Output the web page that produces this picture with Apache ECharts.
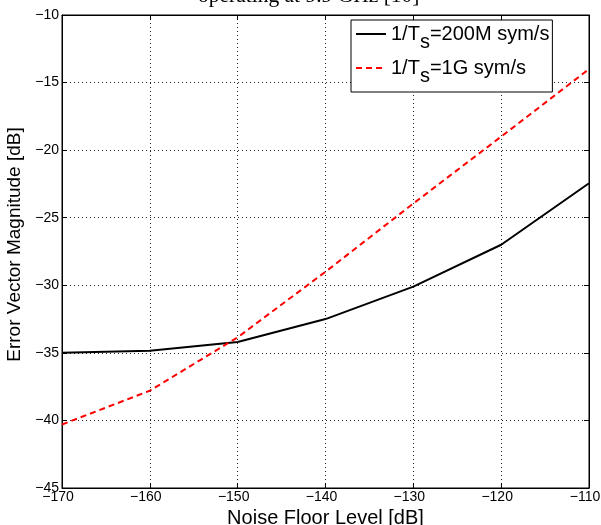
<!DOCTYPE html>
<html>
<head>
<meta charset="utf-8">
<script src="https://cdn.jsdelivr.net/npm/echarts@6/dist/echarts.min.js"></script>
<style>html,body{margin:0;padding:0;background:#fff;}#c{width:601px;height:525px;}</style>
</head>
<body>
<div id="c"></div>
<script>
const xValues = [-170, -160, -150, -140, -130, -120, -110];
const series200M = [-35.0, -34.85, -34.2, -32.5, -30.1, -27.0, -22.45];
const series1G = [-40.3, -37.8, -33.85, -29.0, -23.95, -19.0, -14.0];
const seriesNames = ['1/T{s|s}=200M sym/s', '1/T{s|s}=1G sym/s'];
const xTicks = [-170, -160, -150, -140, -130, -120, -110];
const yTicks = [-45, -40, -35, -30, -25, -20, -15, -10];

const minus = v => String(v).replace('-', '\u2212');
const font = 'Liberation Sans, Arial, sans-serif';

const chart = echarts.init(document.getElementById('c'), null, {renderer: 'canvas'});
const gridLine = {show: true, lineStyle: {color: '#222', type: [1, 3], width: 1}};
chart.setOption({
  animation: false,
  backgroundColor: '#fff',
  graphic: [{
    type: 'text', left: 198, top: -15,
    style: {text: 'operating at 9.9 GHz [10]', font: '21.5px "Liberation Serif", serif', fill: '#000'}
  }],
  grid: {left: 62, right: 12, top: 15, bottom: 37, show: true, borderColor: '#000', borderWidth: 1,
         outerBoundsMode: 'none', containLabel: false},
  legend: {
    left: 351, top: 20, width: 200, height: 72,
    orient: 'vertical',
    backgroundColor: '#fff', borderColor: '#000', borderWidth: 1,
    padding: [4, 3, 6, 4], itemGap: 6, itemWidth: 30, itemHeight: 14,
    itemStyle: {opacity: 0},
    textStyle: {
      fontFamily: font, fontSize: 20, color: '#000',
      rich: {s: {fontFamily: font, fontSize: 20, color: '#000', padding: [16, 0, 0, 0]}}
    },
    data: [{name: seriesNames[0]}, {name: seriesNames[1]}]
  },
  xAxis: [{
    type: 'value', min: -170, max: -110, interval: 10,
    name: 'Noise Floor Level [dB]', nameLocation: 'middle', nameGap: 19,
    nameTextStyle: {fontFamily: font, fontSize: 20, color: '#000'},
    axisLine: {lineStyle: {color: '#000'}},
    axisTick: {inside: true, length: 5, lineStyle: {color: '#000'}},
    axisLabel: {fontFamily: font, fontSize: 14, color: '#000', margin: 2, formatter: minus,
                padding: [0, 8, 0, 0]},
    splitLine: gridLine
  }, {
    type: 'value', position: 'top', min: -170, max: -110, interval: 10,
    axisLine: {show: true, lineStyle: {color: '#000'}},
    axisTick: {inside: true, length: 5, lineStyle: {color: '#000'}},
    axisLabel: {show: false}, splitLine: {show: false}
  }],
  yAxis: [{
    type: 'value', min: -45, max: -10, interval: 5,
    name: 'Error Vector Magnitude [dB]', nameLocation: 'middle', nameGap: 24,
    nameTextStyle: {fontFamily: font, fontSize: 19, color: '#000', padding: [0, 0, 0, 14]},
    axisLine: {show: true, lineStyle: {color: '#000'}},
    axisTick: {show: true, inside: true, length: 5, lineStyle: {color: '#000'}},
    axisLabel: {fontFamily: font, fontSize: 14, color: '#000', margin: 3, formatter: minus},
    splitLine: gridLine
  }, {
    type: 'value', position: 'right', min: -45, max: -10, interval: 5,
    axisLine: {show: true, lineStyle: {color: '#000'}},
    axisTick: {show: true, inside: true, length: 5, lineStyle: {color: '#000'}},
    axisLabel: {show: false}, splitLine: {show: false}
  }],
  series: [{
    name: seriesNames[0], type: 'line', symbol: 'none',
    data: xValues.map((x, i) => [x, series200M[i]]),
    lineStyle: {color: '#000', width: 2},
    itemStyle: {color: '#000'}
  }, {
    name: seriesNames[1], type: 'line', symbol: 'none',
    data: xValues.map((x, i) => [x, series1G[i]]),
    lineStyle: {color: '#ff0000', width: 2, type: [6, 4]},
    itemStyle: {color: '#ff0000'}
  }]
});
</script>
</body>
</html>
